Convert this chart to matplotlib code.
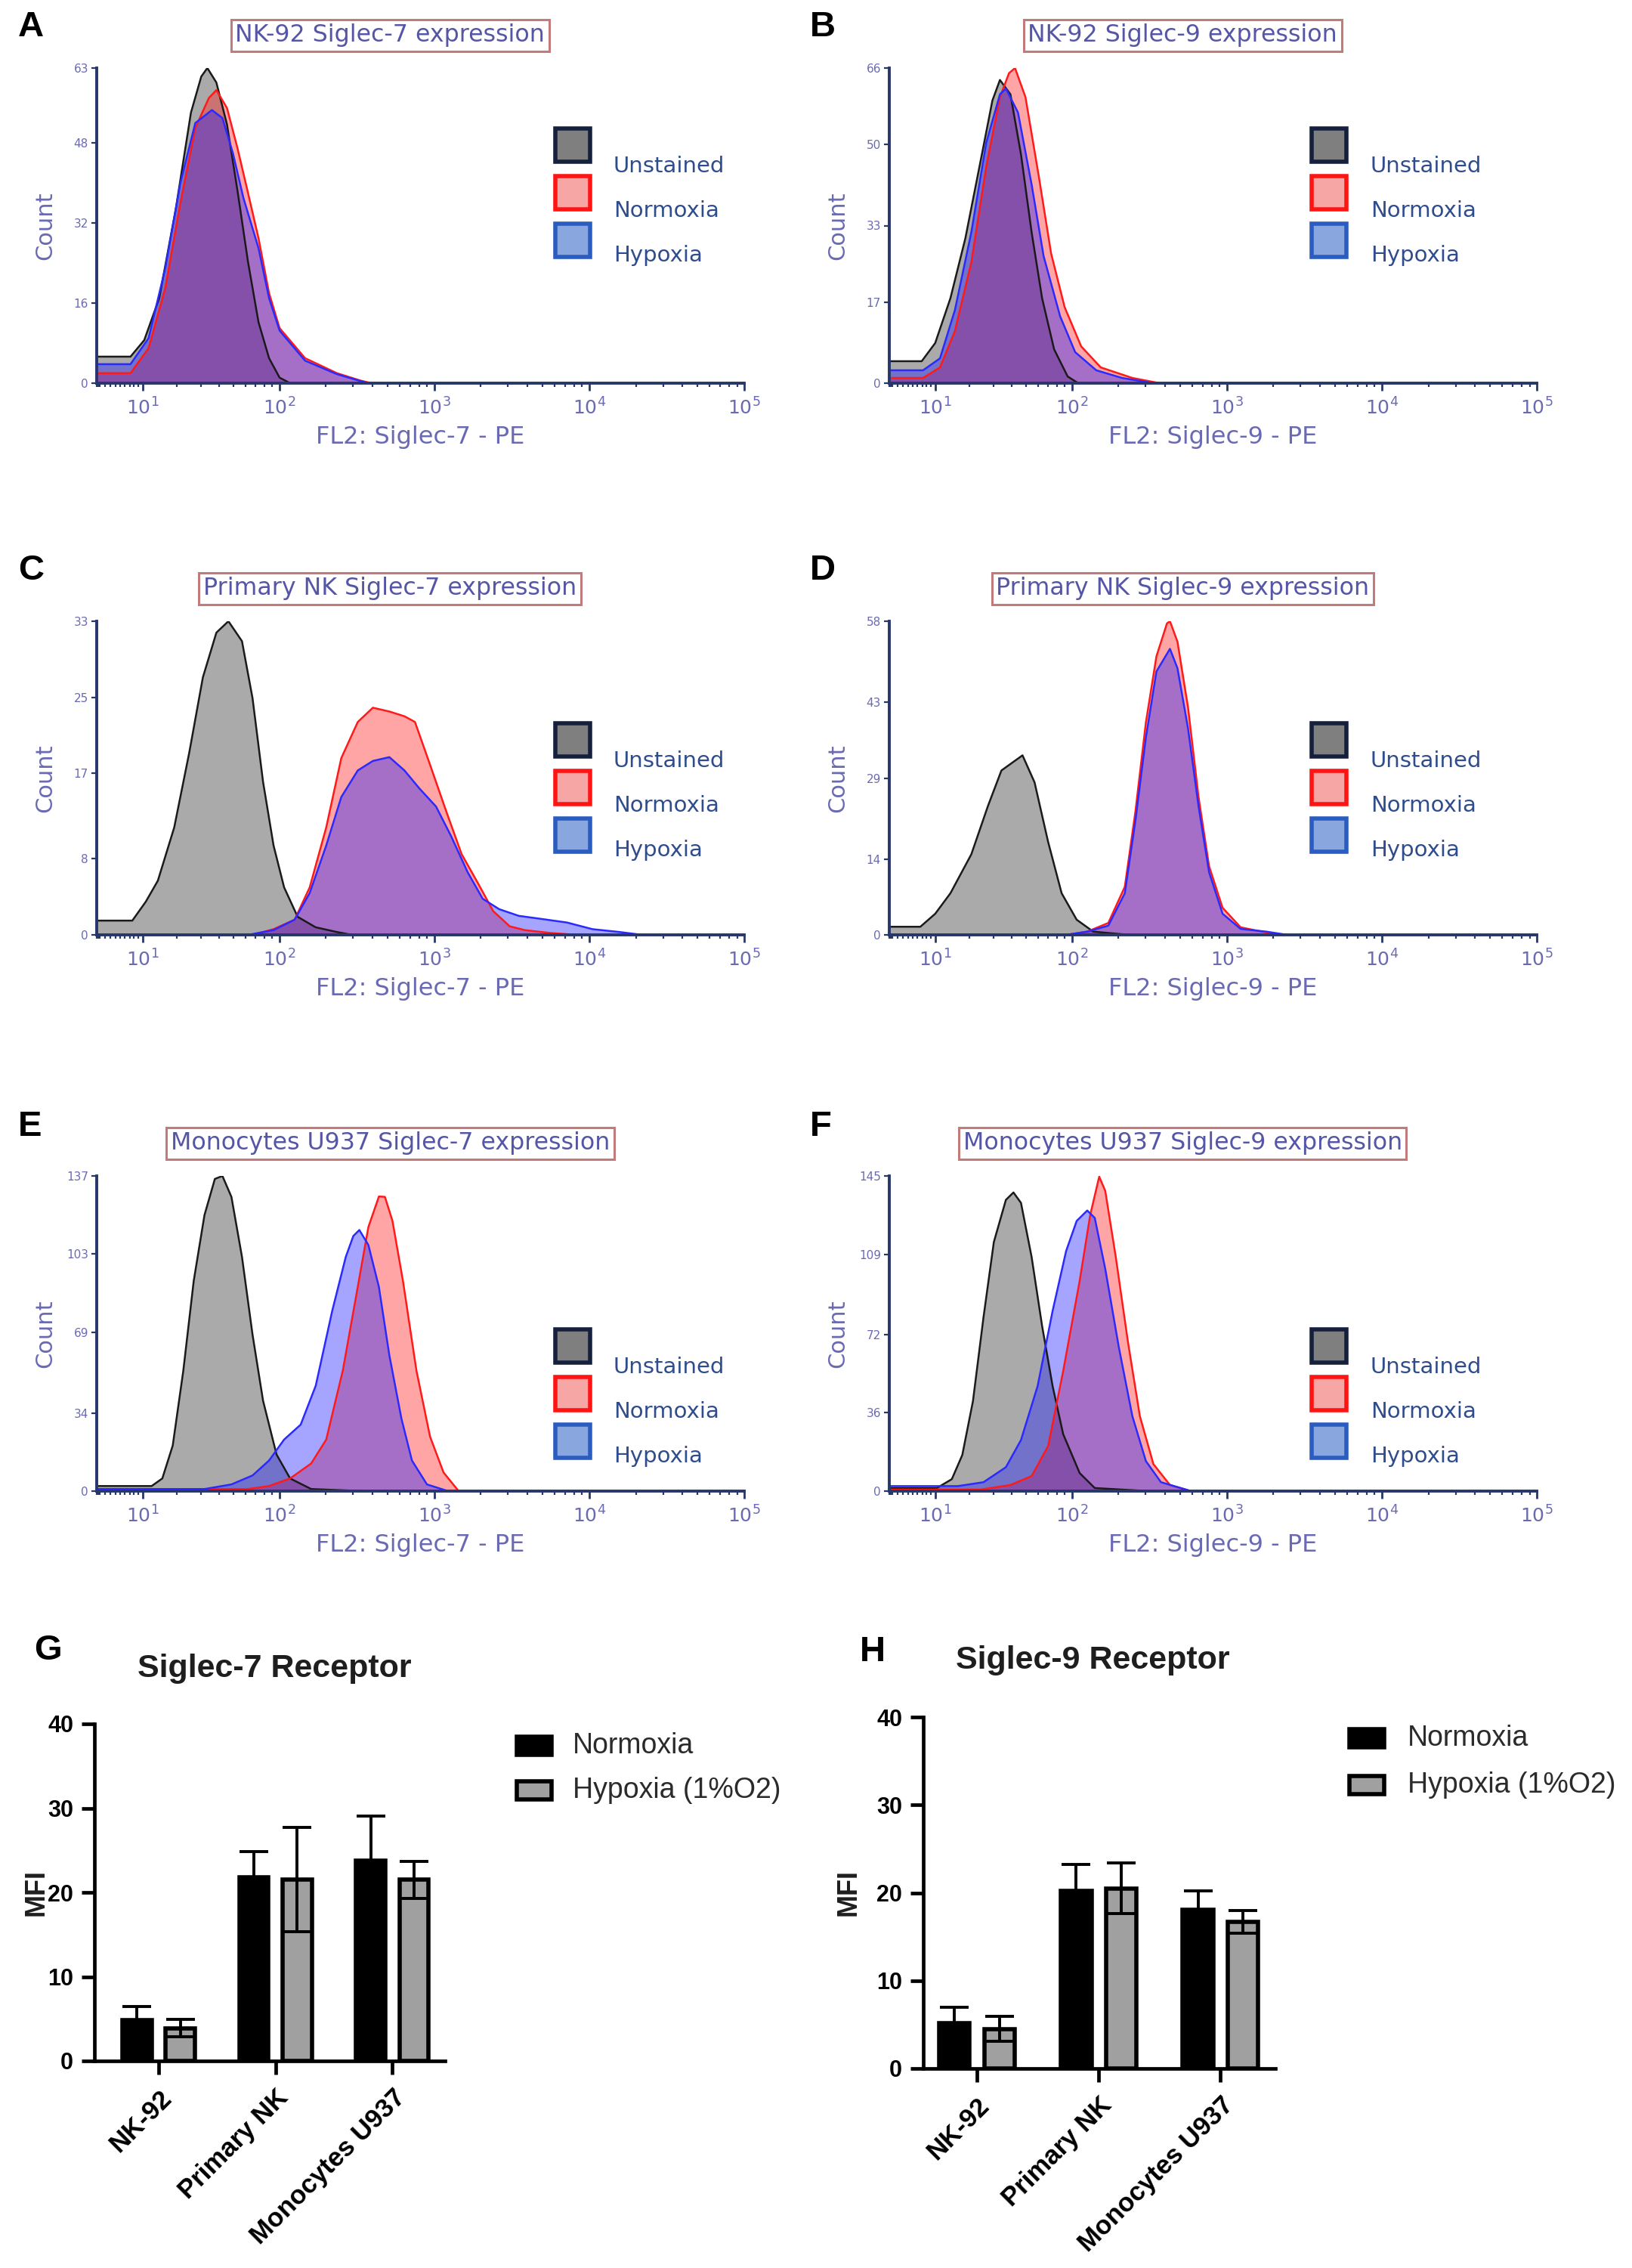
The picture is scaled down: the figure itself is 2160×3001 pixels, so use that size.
import numpy as np
import matplotlib
matplotlib.use("Agg")
import matplotlib.pyplot as plt
from matplotlib.patches import Rectangle
from matplotlib.ticker import LogLocator, FuncFormatter

W, H = 2160, 3001
DPI = 200

# ---- flow histograms: FL2 intensity and counts ----
a_unst_fl = [0.35, 7.2, 10.4, 14.4, 19.7, 25.5, 30.2, 33.3, 38.4, 45.3, 53.2, 62.5, 73.2, 85.8, 100.5, 117.6]
a_unst_ct = [5.3, 5.3, 8.6, 17.0, 35.0, 54.1, 61.3, 63.0, 60.1, 51.7, 38.5, 24.2, 12.2, 5.0, 1.1, 0.0]
a_norm_fl = [0.35, 7.2, 11.5, 16.2, 21.3, 27.4, 34.1, 38.4, 45.3, 53.2, 62.5, 73.2, 85.8, 100.5, 147, 236, 337, 394]
a_norm_ct = [2.0, 2.0, 7.0, 19.0, 36.0, 51.0, 57.0, 58.6, 55.0, 47.0, 38.0, 29.0, 18.0, 11.0, 5.0, 2.0, 0.5, 0.0]
a_hyp_fl = [0.35, 7.2, 11.5, 16.2, 21.3, 27.4, 35.8, 42.2, 49.6, 58.3, 73.2, 85.8, 100.5, 147, 236, 337, 377]
a_hyp_ct = [3.8, 3.8, 9.0, 23.0, 40.0, 52.0, 54.6, 53.0, 46.0, 37.0, 27.0, 17.0, 10.5, 4.5, 1.8, 0.4, 0.0]

b_unst_fl = [0.35, 6.9, 10.0, 14.0, 18.6, 24.8, 29.5, 33.3, 39.3, 46.3, 54.5, 63.9, 76.6, 93.9, 110.0]
b_unst_ct = [4.6, 4.6, 8.4, 17.8, 30.3, 47.9, 59.2, 63.5, 60.5, 47.9, 31.6, 17.8, 7.1, 1.4, 0.0]
b_norm_fl = [0.35, 7.2, 11.2, 15.3, 20.7, 26.7, 33.3, 38.4, 42.2, 49.6, 61.1, 73.2, 89.8, 115.0, 154, 246, 369]
b_norm_ct = [1.1, 1.1, 3.3, 10.9, 25.3, 45.4, 59.9, 64.9, 66.0, 59.9, 42.9, 27.2, 15.9, 7.7, 3.3, 1.1, 0.0]
b_hyp_fl = [0.35, 7.2, 11.2, 15.3, 20.7, 26.7, 33.3, 36.6, 44.2, 54.5, 65.4, 83.9, 105.1, 144, 211, 337]
b_hyp_ct = [2.7, 2.7, 5.2, 15.3, 31.6, 50.4, 60.5, 61.7, 56.7, 41.6, 26.6, 14.0, 6.5, 2.7, 1.1, 0.0]

c_unst_fl = [0.35, 7.6, 10.8, 14.0, 19.1, 24.8, 31.0, 38.4, 46.3, 57.0, 66.9, 78.4, 91.8, 107.5, 131.6, 172, 236, 295]
c_unst_ct = [1.5, 1.5, 3.5, 5.7, 11.3, 19.2, 27.1, 31.8, 33.0, 30.9, 24.9, 16.1, 9.4, 5.0, 1.9, 0.8, 0.3, 0.0]
c_norm_fl = [66.9, 91.8, 125.9, 157.5, 201.4, 252, 322, 403, 515, 644, 753, 942, 1204, 1505, 1924, 2406, 3076, 3846, 5623, 8404]
c_norm_ct = [0.0, 0.6, 1.6, 5.0, 11.3, 18.6, 22.4, 23.9, 23.5, 23.0, 22.4, 17.9, 12.9, 8.5, 5.4, 2.5, 0.9, 0.5, 0.2, 0.0]
c_hyp_fl = [62.5, 91.8, 125.9, 157.5, 201.4, 252, 322, 403, 515, 644, 805, 1030, 1287, 1646, 2058, 2631, 3518, 4808, 7189, 10508, 15704, 21961]
c_hyp_ct = [0.0, 0.5, 1.6, 4.4, 9.4, 14.5, 17.3, 18.3, 18.7, 17.3, 15.4, 13.5, 10.4, 6.6, 3.8, 2.7, 2.0, 1.7, 1.3, 0.6, 0.3, 0.0]

d_unst_fl = [0.35, 6.6, 10.0, 14.0, 20.7, 27.4, 34.1, 41.2, 47.4, 57.0, 70.0, 85.8, 107.5, 137.7, 236]
d_unst_ct = [1.5, 1.5, 3.9, 7.7, 14.9, 23.8, 30.4, 32.0, 33.2, 28.2, 17.2, 7.7, 2.8, 0.6, 0.0]
d_norm_fl = [91.8, 125.9, 172.3, 220.3, 257.6, 301.4, 352.4, 412.1, 430.9, 481.9, 563.4, 658.7, 770.2, 941.7, 1231, 1683, 2301]
d_norm_ct = [0.0, 0.6, 2.2, 8.9, 22.7, 39.3, 51.5, 57.6, 58.0, 54.2, 42.1, 25.5, 12.7, 5.0, 1.4, 0.6, 0.0]
d_hyp_fl = [91.8, 125.9, 172.3, 220.3, 257.6, 301.4, 352.4, 430.9, 481.9, 563.4, 658.7, 770.2, 941.7, 1231, 1800, 2460]
d_hyp_ct = [0.0, 0.6, 1.7, 7.7, 21.0, 36.5, 48.7, 52.9, 49.3, 38.2, 23.8, 11.6, 3.9, 1.1, 0.6, 0.0]

e_unst_fl = [0.35, 12.3, 15.3, 18.6, 22.4, 26.7, 31.8, 37.5, 42.2, 48.5, 57.0, 66.9, 78.4, 96.0, 117.6, 161, 352]
e_unst_ct = [2.2, 2.2, 5.5, 19.8, 52.3, 91.4, 120.0, 135.7, 137.0, 127.9, 101.8, 68.0, 39.3, 15.9, 5.5, 0.9, 0.0]
e_norm_fl = [0.35, 62.5, 85.8, 117.6, 161, 201.4, 257.6, 322, 377, 441, 482, 539, 630, 770, 942, 1151, 1440]
e_norm_ct = [0.9, 0.9, 2.2, 5.5, 12.0, 22.4, 52.3, 88.8, 114.8, 128.1, 127.9, 117.5, 91.4, 52.3, 23.7, 8.1, 0.0]
e_hyp_fl = [0.35, 31.8, 48.5, 66.9, 85.8, 107.5, 137.7, 172.3, 220.3, 269.4, 301.4, 329.6, 376.9, 440.6, 515.2, 616, 720, 900, 1231]
e_hyp_ct = [0.9, 0.9, 2.9, 6.8, 13.3, 22.4, 28.9, 45.8, 78.4, 101.8, 110.9, 113.5, 107.0, 88.8, 58.9, 31.5, 13.3, 2.9, 0.0]

f_unst_fl = [0.35, 10.4, 14.4, 17.6, 21.3, 25.5, 30.2, 36.6, 41.2, 46.3, 54.5, 63.9, 74.9, 87.8, 112.4, 140.8, 315]
f_unst_ct = [1.4, 1.4, 5.5, 16.6, 41.4, 80.1, 114.6, 134.0, 137.4, 132.6, 107.7, 76.0, 48.3, 26.2, 8.3, 1.4, 0.0]
f_norm_fl = [0.35, 24.2, 39.3, 54.5, 70.0, 87.8, 112.4, 131.6, 150.5, 164.7, 192.6, 230.4, 275.5, 337.1, 430.9, 589]
f_norm_ct = [0.7, 0.7, 2.8, 6.9, 20.7, 55.2, 96.7, 127.1, 144.7, 138.1, 107.7, 69.0, 34.5, 12.4, 2.8, 0.0]
f_hyp_fl = [0.35, 16.2, 25.5, 36.6, 46.3, 59.7, 74.9, 91.8, 107.5, 125.9, 140.8, 164.7, 201.4, 246.4, 301.4, 376.9, 589]
f_hyp_ct = [2.3, 2.3, 4.1, 11.0, 23.5, 48.3, 82.9, 110.5, 124.3, 129.1, 125.7, 102.2, 66.3, 34.5, 13.8, 4.1, 0.0]

hist_titles = ["NK-92 Siglec-7 expression", "NK-92 Siglec-9 expression",
               "Primary NK Siglec-7 expression", "Primary NK Siglec-9 expression",
               "Monocytes U937 Siglec-7 expression", "Monocytes U937 Siglec-9 expression"]
hist_xlabels = ["FL2: Siglec-7 - PE", "FL2: Siglec-9 - PE"] * 3
hist_yticks = [[0, 16, 32, 48, 63], [0, 17, 33, 50, 66],
               [0, 8, 17, 25, 33], [0, 14, 29, 43, 58],
               [0, 34, 69, 103, 137], [0, 36, 72, 109, 145]]
decade_ticks = [1e1, 1e2, 1e3, 1e4, 1e5]
legend_labels = ["Unstained", "Normoxia", "Hypoxia"]
panel_letters = ["A", "B", "C", "D", "E", "F"]

# ---- MFI bar charts ----
cell_types = ["NK-92", "Primary NK", "Monocytes U937"]
g_norm = [4.8, 21.8, 23.8]
g_norm_err = [1.7, 3.0, 5.3]
g_hyp = [3.9, 21.5, 21.5]
g_hyp_err = [1.0, 6.2, 2.2]
h_norm = [5.2, 20.2, 18.1]
h_norm_err = [1.8, 3.0, 2.1]
h_hyp = [4.5, 20.5, 16.7]
h_hyp_err = [1.4, 2.9, 1.3]
bar_labels = ["Normoxia", "Hypoxia (1%O2)"]

hist_series = [
    [(a_unst_fl, a_unst_ct), (a_norm_fl, a_norm_ct), (a_hyp_fl, a_hyp_ct)],
    [(b_unst_fl, b_unst_ct), (b_norm_fl, b_norm_ct), (b_hyp_fl, b_hyp_ct)],
    [(c_unst_fl, c_unst_ct), (c_norm_fl, c_norm_ct), (c_hyp_fl, c_hyp_ct)],
    [(d_unst_fl, d_unst_ct), (d_norm_fl, d_norm_ct), (d_hyp_fl, d_hyp_ct)],
    [(e_unst_fl, e_unst_ct), (e_norm_fl, e_norm_ct), (e_hyp_fl, e_hyp_ct)],
    [(f_unst_fl, f_unst_ct), (f_norm_fl, f_norm_ct), (f_hyp_fl, f_hyp_ct)],
]

# layout in pixels (left, top, right, bottom)
hist_boxes = [(128, 90, 985, 507), (1177, 90, 2034, 507),
              (128, 822, 985, 1237), (1177, 822, 2034, 1237),
              (128, 1556, 985, 1973), (1177, 1556, 2034, 1973)]
legend_left = [735, 1736] * 3
legend_text_left = [812, 1814] * 3
legend_first = [102, 102, 157, 157, 225, 225]
letter_pos = [(24, 36), (1072, 36), (24, 755), (1072, 755), (24, 1491), (1072, 1491)]

fill_cols = ["#7a7a7a", "#ff2020", "#1e1eff"]
fill_alpha = [0.64, 0.4, 0.4]
line_cols = ["#1a1a1a", "#ff1a1a", "#2a2aff"]
swatch_face = ["#7f7f7f", "#f7a6a6", "#8aa6df"]
swatch_edge = ["#14203c", "#ff1414", "#2b5cbf"]

NAVY = "#27376a"
LAV = "#6a6ab4"
TXT = "#5656a6"
LEGTXT = "#2f4c8c"

# FlowJo-like display: logarithmic above ~100, compressed first decade
BIEX_W = 13.0


def biex_fwd(x):
    return np.arcsinh(np.asarray(x, dtype=float) / BIEX_W)


def biex_inv(y):
    return BIEX_W * np.sinh(np.asarray(y, dtype=float))


fig = plt.figure(figsize=(W / DPI, H / DPI), dpi=DPI)


def px_axes(left, top, right, bottom):
    return fig.add_axes([left / W, 1 - bottom / H, (right - left) / W, (bottom - top) / H])


def px_text(x, y, s, **kw):
    return fig.text(x / W, 1 - y / H, s, **kw)


def px_rect(x0, y0, w, h, **kw):
    fig.add_artist(Rectangle((x0 / W, 1 - (y0 + h) / H), w / W, h / H,
                             transform=fig.transFigure, **kw))


for i in range(6):
    left, top, right, bottom = hist_boxes[i]
    ax = px_axes(left, top, right, bottom)
    ax.set_xscale("function", functions=(biex_fwd, biex_inv))
    series = hist_series[i]
    for k, (fl, ct) in enumerate(series):
        ax.fill_between(fl, ct, 0, color=fill_cols[k], alpha=fill_alpha[k], lw=0)
    for k, (fl, ct) in enumerate(series):
        ax.plot(fl, ct, color=line_cols[k], lw=0.9)

    ax.set_xlim(0.35, 1e5)
    ax.set_ylim(0, hist_yticks[i][-1])
    ax.set_yticks(hist_yticks[i])
    ax.set_xticks(decade_ticks)
    ax.xaxis.set_major_formatter(FuncFormatter(
        lambda v, p: r"$\mathdefault{10^{%d}}$" % round(np.log10(v))))
    ax.xaxis.set_minor_locator(LogLocator(base=10, subs=np.arange(2, 10), numticks=100))
    for s in ["top", "right"]:
        ax.spines[s].set_visible(False)
    for s in ["left", "bottom"]:
        ax.spines[s].set_color(NAVY)
        ax.spines[s].set_linewidth(1.4)
    ax.tick_params(axis="x", which="major", length=3.5, width=1.0, color=NAVY,
                   labelcolor=LAV, labelsize=9, pad=3.5)
    ax.tick_params(axis="x", which="minor", length=1.8, width=0.8, color=NAVY)
    ax.tick_params(axis="y", length=2.5, width=0.8, color=NAVY,
                   labelcolor=LAV, labelsize=5.5, pad=1.5)

    h = bottom - top
    w = right - left
    ax.text(0.5, -72 / h, hist_xlabels[i], transform=ax.transAxes,
            ha="center", va="center", fontsize=11.5, color=LAV)
    ax.text(-68 / w, 0.5, "Count", transform=ax.transAxes, rotation=90,
            ha="center", va="center", fontsize=11, color=LAV)
    ax.text(0.453, 1 + 43 / h, hist_titles[i], transform=ax.transAxes,
            ha="center", va="center", fontsize=11.4, color=TXT,
            bbox=dict(boxstyle="square,pad=0.18", fc="white", ec="#c27b7b", lw=1.1))

    # legend swatches
    for k in range(3):
        cy = top + legend_first[i] + 63 * k
        px_rect(legend_left[i], cy - 22, 46, 44, facecolor=swatch_face[k],
                edgecolor=swatch_edge[k], lw=2.0)
        px_text(legend_text_left[i], top + legend_first[i] + 28 + 59 * k,
                legend_labels[k], ha="left", va="center", fontsize=10.5, color=LEGTXT)

    lx0, ly0 = letter_pos[i]
    px_text(lx0, ly0, panel_letters[i], ha="left", va="center", fontsize=17,
            fontweight="bold", family="Liberation Sans", color="black")


def draw_bars(box, xpad, norm, norm_err, hyp, hyp_err, title, title_xy, letter, letter_xy,
              mfi_xy, leg_x, leg_y, leg_tx):
    ax = px_axes(*box)
    pos = np.arange(len(cell_types))
    ek = dict(elinewidth=1.4, capthick=1.4, ecolor="black")
    ax.bar(pos - 0.185, norm, 0.25, color="black", edgecolor="black", linewidth=2.0,
           yerr=norm_err, capsize=7, error_kw=ek)
    ax.bar(pos + 0.185, hyp, 0.25, color="#a0a0a0", edgecolor="black", linewidth=2.0,
           yerr=hyp_err, capsize=7, error_kw=ek)
    ax.set_xlim(-xpad, 2.45)
    ax.set_ylim(0, 40)
    ax.set_yticks([0, 10, 20, 30, 40])
    ax.set_xticks(pos)
    ax.set_xticklabels(cell_types, rotation=45, ha="right", rotation_mode="anchor",
                       fontsize=12.5, fontweight="bold", family="Liberation Sans")
    for lab in ax.get_yticklabels():
        lab.set_fontweight("bold")
        lab.set_family("Liberation Sans")
        lab.set_fontsize(11)
    for s in ["top", "right"]:
        ax.spines[s].set_visible(False)
    for s in ["left", "bottom"]:
        ax.spines[s].set_linewidth(1.7)
    ax.tick_params(axis="x", length=6.5, width=1.7, pad=5)
    ax.tick_params(axis="y", length=6, width=1.7, pad=4)

    px_text(title_xy[0], title_xy[1], title, ha="left", va="center", fontsize=15.5,
            fontweight="bold", family="Liberation Sans", color="#1e1e1e")
    px_text(letter_xy[0], letter_xy[1], letter, ha="left", va="center", fontsize=17,
            fontweight="bold", family="Liberation Sans", color="black")
    px_text(mfi_xy[0], mfi_xy[1], "MFI", ha="center", va="center", rotation=90,
            fontsize=13, fontweight="bold", family="Liberation Sans", color="#1e1e1e")
    faces = ["black", "#a0a0a0"]
    for k in range(2):
        px_rect(leg_x, leg_y[k] - 12, 46, 24, facecolor=faces[k], edgecolor="black", lw=2.0)
        px_text(leg_tx, leg_y[k], bar_labels[k], ha="left", va="center", fontsize=13.5,
                family="Liberation Sans", color="#2b2b2b")


draw_bars((125, 2281, 589, 2727), 0.55, g_norm, g_norm_err, g_hyp, g_hyp_err,
          "Siglec-7 Receptor", (182, 2208), "G", (45, 2184), (48, 2504),
          684, (2310, 2369), 758)
draw_bars((1222, 2272, 1688, 2737), 0.44, h_norm, h_norm_err, h_hyp, h_hyp_err,
          "Siglec-9 Receptor", (1265, 2197), "H", (1138, 2186), (1123, 2504),
          1786, (2300, 2362), 1863)

fig.savefig("out.png", dpi=DPI)
